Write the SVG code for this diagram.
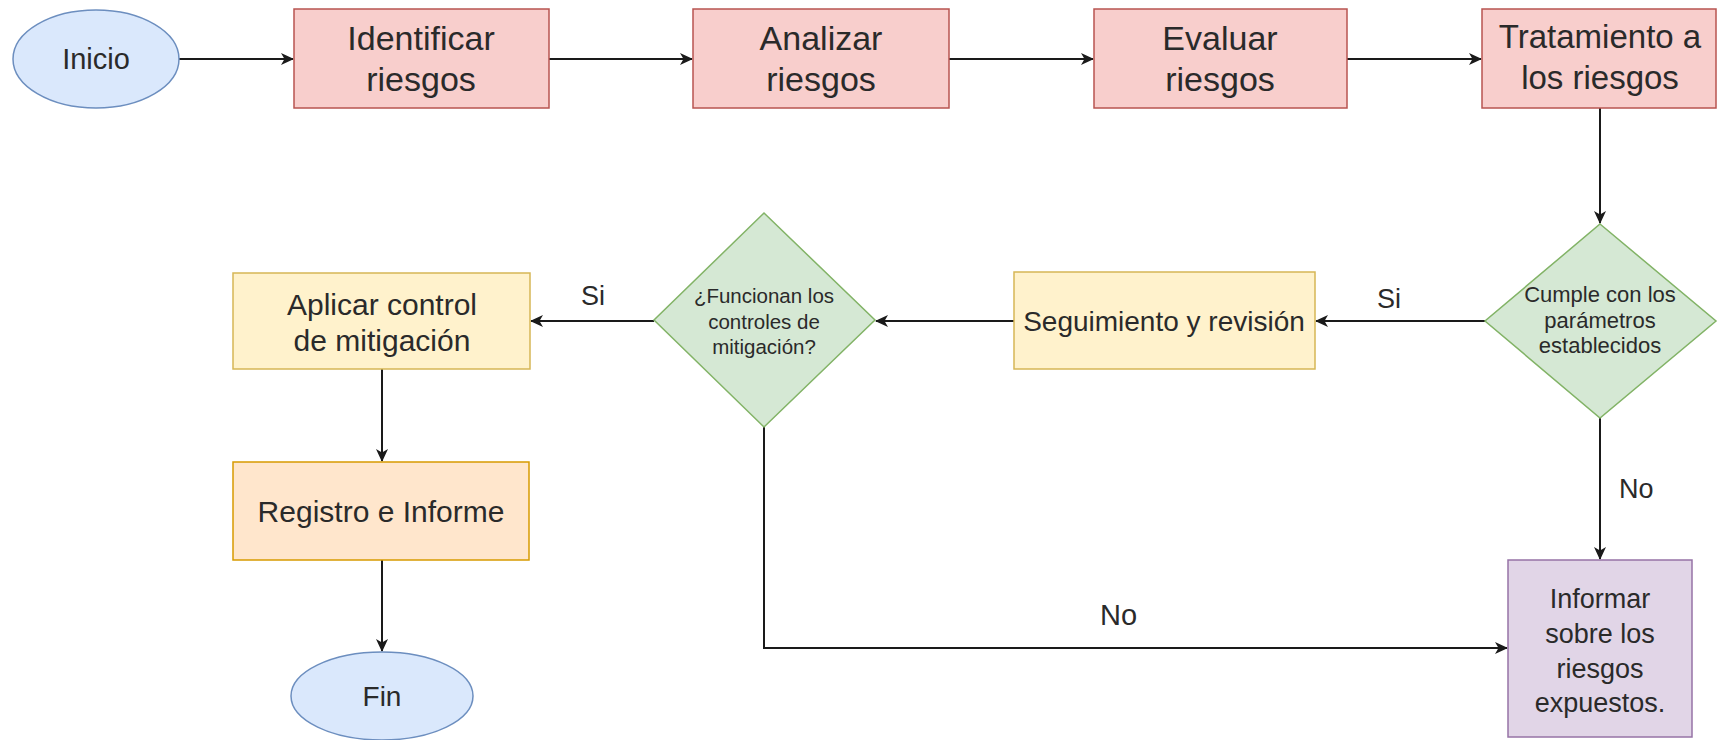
<svg xmlns="http://www.w3.org/2000/svg" width="1718" height="740" viewBox="0 0 1718 740">
<defs>
<marker id="arr" markerWidth="14" markerHeight="12" refX="12" refY="6" orient="auto" markerUnits="userSpaceOnUse">
<path d="M0,0 L13,6 L0,12 L3.5,6 Z" fill="#1a1a1a"/>
</marker>
<style>
.t{font-family:"Liberation Sans",Arial,Helvetica,sans-serif;fill:#2a2a2a;text-anchor:middle}
.big{font-size:34px}
.mid{font-size:30px}
.sg{font-size:28px}
.inf{font-size:27px}
.sm{font-size:22px}
.sm2{font-size:20.5px}
.lbl{font-family:"Liberation Sans",Arial,Helvetica,sans-serif;fill:#2a2a2a;font-size:27px}
.blue{fill:#dae8fc;stroke:#6c8ebf;stroke-width:1.5}
.red{fill:#f8cecc;stroke:#b85450;stroke-width:1.5}
.yel{fill:#fff2cc;stroke:#d6b656;stroke-width:1.5}
.org{fill:#ffe6cc;stroke:#d79b00;stroke-width:1.5}
.grn{fill:#d5e8d4;stroke:#82b366;stroke-width:1.5}
.pur{fill:#e1d5e7;stroke:#9673a6;stroke-width:1.5}
.c{fill:none;stroke:#1a1a1a;stroke-width:2;marker-end:url(#arr)}
</style>
</defs>
<rect width="1718" height="740" fill="#ffffff"/>

<g id="connectors">
<path class="c" d="M179,59 L293,59"/>
<path class="c" d="M549,59 L692,59"/>
<path class="c" d="M949,59 L1093,59"/>
<path class="c" d="M1347,59 L1481,59"/>
<path class="c" d="M1600,108 L1600,223"/>
<path class="c" d="M1485,321 L1316,321"/>
<path class="c" d="M1014,321 L876,321"/>
<path class="c" d="M654,321 L531,321"/>
<path class="c" d="M382,369 L382,461"/>
<path class="c" d="M382,560 L382,651"/>
<path class="c" d="M1600,418 L1600,559"/>
<path class="c" d="M764,427 L764,648 L1507,648"/>
<text class="lbl" x="1377" y="308">Si</text>
<text class="lbl" x="581" y="305">Si</text>
<text class="lbl" x="1619" y="498">No</text>
<text class="lbl" x="1100" y="625" style="font-size:29px">No</text>
</g>

<g id="inicio">
<ellipse class="blue" cx="96" cy="59" rx="83" ry="49"/>
<text class="t" style="font-size:29px" x="96" y="69">Inicio</text>
</g>

<g id="identificar">
<rect class="red" x="294" y="9" width="255" height="99"/>
<text class="t big" x="421" y="50">Identificar</text>
<text class="t big" x="421" y="91">riesgos</text>
</g>

<g id="analizar">
<rect class="red" x="693" y="9" width="256" height="99"/>
<text class="t big" x="821" y="50">Analizar</text>
<text class="t big" x="821" y="91">riesgos</text>
</g>

<g id="evaluar">
<rect class="red" x="1094" y="9" width="253" height="99"/>
<text class="t big" x="1220" y="50">Evaluar</text>
<text class="t big" x="1220" y="91">riesgos</text>
</g>

<g id="tratamiento">
<rect class="red" x="1482" y="9" width="234" height="99"/>
<text class="t" style="font-size:33px" x="1600" y="48">Tratamiento a</text>
<text class="t" style="font-size:33px" x="1600" y="89">los riesgos</text>
</g>

<g id="cumple">
<polygon class="grn" points="1600,224 1716,321 1600,418 1485,321"/>
<text class="t sm" x="1600" y="302">Cumple con los</text>
<text class="t sm" x="1600" y="328">parámetros</text>
<text class="t sm" x="1600" y="353">establecidos</text>
</g>

<g id="seguimiento">
<rect class="yel" x="1014" y="272" width="301" height="97"/>
<text class="t sg" x="1164" y="331">Seguimiento y revisión</text>
</g>

<g id="funcionan">
<polygon class="grn" points="764,213 875,320 764,427 654,320"/>
<text class="t sm2" x="764" y="303">¿Funcionan los</text>
<text class="t sm2" x="764" y="329">controles de</text>
<text class="t sm2" x="764" y="354">mitigación?</text>
</g>

<g id="aplicar">
<rect class="yel" x="233" y="273" width="297" height="96"/>
<text class="t mid" x="382" y="315">Aplicar control</text>
<text class="t mid" x="382" y="351">de mitigación</text>
</g>

<g id="registro">
<rect class="org" x="233" y="462" width="296" height="98"/>
<text class="t mid" x="381" y="522">Registro e Informe</text>
</g>

<g id="fin">
<ellipse class="blue" cx="382" cy="696" rx="91" ry="44"/>
<text class="t" style="font-size:28px" x="382" y="706">Fin</text>
</g>

<g id="informar">
<rect class="pur" x="1508" y="560" width="184" height="177"/>
<text class="t inf" x="1600" y="608">Informar</text>
<text class="t inf" x="1600" y="643">sobre los</text>
<text class="t inf" x="1600" y="678">riesgos</text>
<text class="t inf" x="1600" y="712">expuestos.</text>
</g>
</svg>
